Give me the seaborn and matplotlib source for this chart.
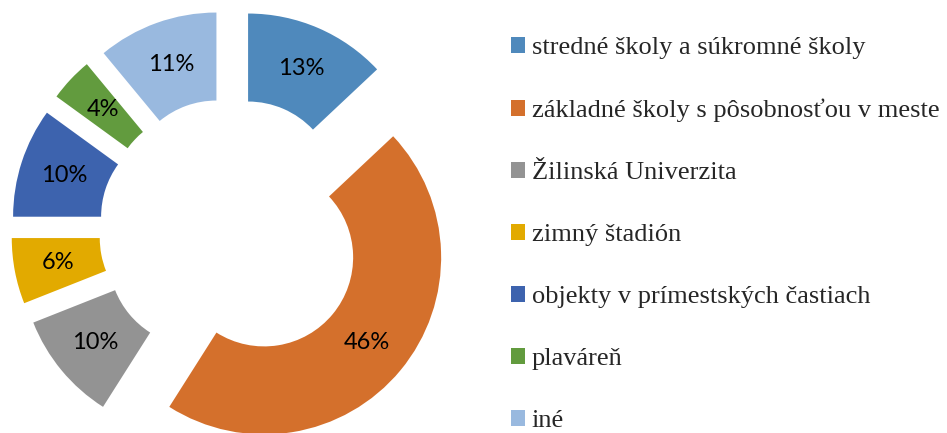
import seaborn as sns
import matplotlib.pyplot as plt

categories = ["stredné školy a súkromné školy",
              "základné školy s pôsobnosťou v meste",
              "Žilinská Univerzita",
              "zimný štadión",
              "objekty v prímestských častiach",
              "plaváreň",
              "iné"]
shares = [13, 46, 10, 6, 10, 4, 11]
colors = ["#4F89BC", "#D4702C", "#939393", "#E2AA00", "#3D63AE", "#629B3E", "#99B9DF"]

sns.set_theme(style="white")
palette = sns.color_palette(colors)

fig = plt.figure(figsize=(9.47, 4.33), dpi=100)
# axes in pixel units so the donut lands where it should
ax = fig.add_axes([0, 0, 470 / 947, 1])
ax.axis("off")

R = 177
wedges, texts, autotexts = ax.pie(
    shares, colors=palette, startangle=90, counterclock=False,
    center=(231, 433 - 230), radius=R, explode=[43] * len(shares),
    wedgeprops=dict(width=88, linewidth=0),
    autopct="%d%%", pctdistance=0.75,
    textprops=dict(fontsize=17, family="Lato", color="black"),
)
ax.set_xlim(0, 470)
ax.set_ylim(0, 433)
ax.set_aspect("auto")

fig.legend(wedges, categories, loc="upper left", bbox_to_anchor=(511 / 947, 1 - 37 / 433),
           frameon=False, prop=dict(family="Liberation Serif", size=19),
           handlelength=0.53, handleheight=0.53, handletextpad=0.25,
           labelspacing=1.51, borderpad=0, borderaxespad=0)

fig.savefig("out.png", dpi=100)
